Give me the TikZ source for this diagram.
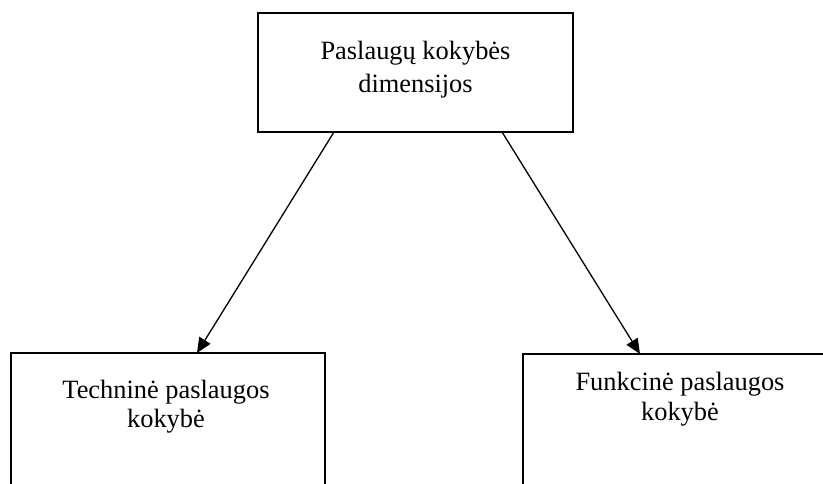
\documentclass[tikz,border=0pt]{standalone}
\usepackage{fontspec}
\setmainfont{Liberation Serif}
\usetikzlibrary{arrows.meta,calc}
\tikzset{
  box/.style={draw, line width=1.6pt, rectangle, anchor=north west, inner sep=0pt, outer sep=0pt},
  txt/.style={anchor=base, inner sep=0pt, font=\fontsize{26.4}{31}\selectfont},
  conn/.style={line width=1.3pt, -{Triangle[length=15pt,width=13pt]}}
}
\begin{document}
\begin{tikzpicture}[x=1pt,y=-1pt]
\useasboundingbox (0,0) rectangle (823,484);
\clip (0,0) rectangle (823,484);
\node[box, minimum width=315pt, minimum height=119pt] (top) at (258,13) {};
\node[box, minimum width=314pt, minimum height=150pt] (left) at (11,353) {};
\node[box, minimum width=320pt, minimum height=150pt] (right) at (523,354) {};
\node[txt] (t1) at (415.5,60) {Paslaugų kokybės};
\node[txt] (t2) at (415.5,93) {dimensijos};
\node[txt] (l1) at (166,398) {Techninė paslaugos};
\node[txt] (l2) at (166,427) {kokybė};
\node[txt] (r1) at (680,390) {Funkcinė paslaugos};
\node[txt] (r2) at (680,420) {kokybė};
\draw[conn] ([xshift=76pt]top.south west) -- ([xshift=186pt]left.north west);
\draw[conn] ([xshift=244pt]top.south west) -- ([xshift=117pt]right.north west);
\end{tikzpicture}
\end{document}
